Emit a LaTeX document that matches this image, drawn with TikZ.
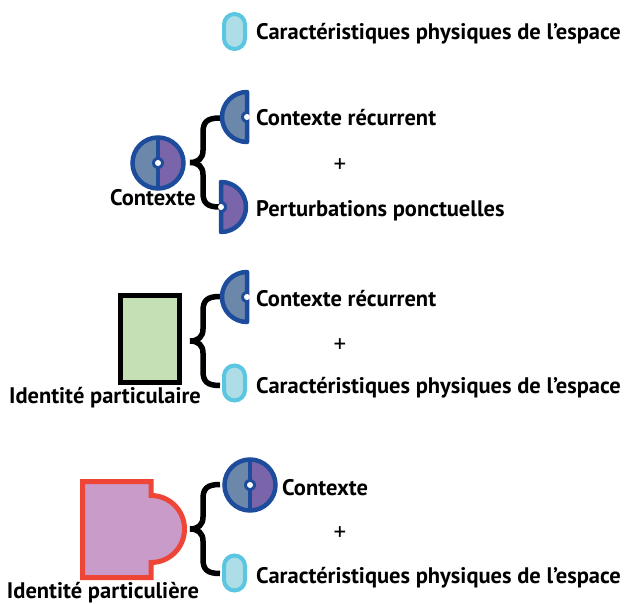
\documentclass[tikz,border=0pt]{standalone}
\usepackage{fontspec}
\setmainfont{PT Sans}
\definecolor{cblue}{HTML}{1E4C9C}
\definecolor{cgray}{HTML}{6B87AA}
\definecolor{cpurp}{HTML}{7A65AA}
\definecolor{ccyan}{HTML}{5AC6E2}
\definecolor{clight}{HTML}{ADDDE6}
\definecolor{cgreen}{HTML}{C5E0B4}
\definecolor{cpink}{HTML}{C99BC9}
\definecolor{cred}{HTML}{EE4537}
\begin{document}
\begin{tikzpicture}[x=1pt,y=-1pt,
 lbl/.style={font=\fontsize{22.5}{24}\selectfont\bfseries, anchor=base west, inner sep=0pt},
 lblc/.style={font=\fontsize{22.5}{24}\selectfont\bfseries, anchor=base, inner sep=0pt},
 plus/.style={font=\fontsize{25}{27}\selectfont, inner sep=0pt},
 bracestyle/.style={line width=5.5pt, black},
 ringstyle/.style={draw=cblue, line width=4.5pt},
 ctxicon/.pic={
  \fill[cgray] (0,-25) arc[start angle=-90,end angle=-270,radius=25] -- cycle;
  \fill[cpurp] (0,-25) arc[start angle=-90,end angle=90,radius=25] -- cycle;
  \draw[ringstyle] (0,0) circle[radius=25.5];
  \draw[cblue,line width=3.5pt] (0,-25) -- (0,25);
  \fill[cblue] (0,0) circle[radius=6];
  \fill[white] (0,0) circle[radius=3];
 },
 halfleft/.pic={
  \draw[ringstyle, fill=cgray, line join=round] (0,-25) arc[start angle=-90,end angle=-270,radius=25] -- cycle;
  \fill[cblue] (0,-6) arc[start angle=-90,end angle=-270,radius=6] -- cycle;
  \fill[white] (0,0) circle[radius=3];
 },
 halfright/.pic={
  \draw[ringstyle, fill=cpurp, line join=round] (0,-25) arc[start angle=-90,end angle=90,radius=25] -- cycle;
  \fill[cblue] (0,-6) arc[start angle=-90,end angle=90,radius=6] -- cycle;
  \fill[white] (0,0) circle[radius=3];
 },
 capsule/.pic={
  \draw[ccyan, fill=clight, line width=4pt, rounded corners=10.5pt] (-10.5,-17.5) rectangle (10.5,17.5);
 },
 curly/.pic={
  \draw[bracestyle] (30,-44.5) .. controls (17,-44.5) and (13,-40.5) .. (13,-30) -- (13,-12) .. controls (13,-4) and (8,0) .. (0,0) .. controls (8,0) and (13,4) .. (13,12) -- (13,30) .. controls (13,40.5) and (17,44.5) .. (30,44.5);
 }
]
\useasboundingbox (0,0) rectangle (626,604);

% top line
\pic at (234.5,31.5) {capsule};
\node[lbl] (car0) at (256,40) {Caractéristiques physiques de l’espace};

% section 1
\pic at (158,163) {ctxicon};
\node[lblc] (ctx1) at (153,205) {Contexte};
\pic at (190,162.5) {curly};
\pic at (247,117) {halfleft};
\node[lbl] (rec1) at (256,126) {Contexte récurrent};
\node[plus] (p1) at (340,166) {+};
\pic at (221,207) {halfright};
\node[lbl] (pert) at (256,216) {Perturbations ponctuelles};

% section 2
\draw[line width=5pt, fill=cgreen] (120.5,295.5) rectangle (179.5,382.5);
\node[lblc] (idp) at (105,403) {Identité particulaire};
\pic at (190,341) {curly};
\pic at (247,297) {halfleft};
\node[lbl] (rec2) at (256,306) {Contexte récurrent};
\node[plus] (p2) at (340,346) {+};
\pic at (234.5,383) {capsule};
\node[lbl] (car2) at (256,393) {Caractéristiques physiques de l’espace};

% section 3
\draw[cred, line width=5pt, fill=cpink] (82.5,481.5) -- (151,481.5) -- (151,495.5) arc[start angle=-90,end angle=90,radius=33.5] -- (151,577.5) -- (82.5,577.5) -- cycle;
\node[lblc] (idq) at (103,598) {Identité particulière};
\pic at (190,529) {curly};
\pic at (250,485) {ctxicon};
\node[lbl] (ctx3) at (282,495) {Contexte};
\node[plus] (p3) at (340,534) {+};
\pic at (234.5,573) {capsule};
\node[lbl] (car3) at (256,583) {Caractéristiques physiques de l’espace};
\end{tikzpicture}
\end{document}
